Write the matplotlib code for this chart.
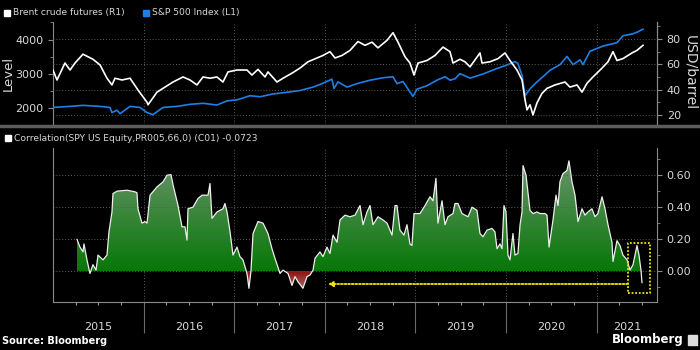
import numpy as np
import matplotlib
matplotlib.use('Agg')
import matplotlib.pyplot as plt
from matplotlib.colors import LinearSegmentedColormap
from matplotlib.path import Path
from matplotlib.patches import Rectangle
from matplotlib.lines import Line2D
from matplotlib.ticker import MultipleLocator, FixedLocator, NullFormatter, FormatStrFormatter
import matplotlib.transforms as mtransforms

# --- data (x = decimal year) ---
brent_t = [2015.000, 2015.044, 2015.132, 2015.188, 2015.243, 2015.331, 2015.441, 2015.519, 2015.596,
           2015.651, 2015.684, 2015.762, 2015.850, 2015.938, 2016.038, 2016.049, 2016.148, 2016.236,
           2016.325, 2016.435, 2016.512, 2016.589, 2016.656, 2016.733, 2016.810, 2016.876, 2016.932,
           2017.031, 2017.141, 2017.196, 2017.263, 2017.340, 2017.373, 2017.472, 2017.539, 2017.638,
           2017.726, 2017.815, 2017.914, 2017.980, 2018.057, 2018.113, 2018.190, 2018.278, 2018.366,
           2018.444, 2018.521, 2018.587, 2018.687, 2018.753, 2018.808, 2018.885, 2018.940, 2018.985,
           2019.029, 2019.128, 2019.216, 2019.305, 2019.382, 2019.415, 2019.492, 2019.547, 2019.603,
           2019.713, 2019.735, 2019.823, 2019.912, 2019.989, 2020.044, 2020.121, 2020.177, 2020.210,
           2020.232, 2020.265, 2020.298, 2020.342, 2020.397, 2020.453, 2020.541, 2020.651, 2020.706,
           2020.784, 2020.839, 2020.894, 2020.960, 2021.060, 2021.126, 2021.181, 2021.225, 2021.291,
           2021.391, 2021.446, 2021.512]
brent_usd = [55.5, 47.6, 61, 55.5, 61, 68, 64, 59.5, 49,
             43.7, 49, 47.6, 49, 39.7, 30, 28, 38, 42,
             46, 50, 47.6, 43.7, 50, 49, 50, 46, 54,
             55.5, 55.5, 51.5, 56, 50, 54, 46, 49, 53,
             57, 62, 65, 67, 70, 65, 67, 71, 78,
             75, 77.5, 73, 79, 85, 77.5, 66, 61, 51.5,
             61, 63, 67, 73.6, 70, 61, 64, 62, 58,
             69, 61, 62, 64.5, 69, 63, 55.5, 47.6, 32,
             24, 28, 20, 29.5, 37, 41, 43.7, 46, 42,
             43.7, 38, 45, 50, 57, 62, 70, 63, 64.5,
             69, 71, 75]

spx_t = [2015.000, 2015.188, 2015.331, 2015.519, 2015.629, 2015.651, 2015.706, 2015.740, 2015.850,
         2015.960, 2016.038, 2016.104, 2016.214, 2016.369, 2016.512, 2016.656, 2016.810, 2016.921,
         2017.031, 2017.174, 2017.285, 2017.428, 2017.583, 2017.726, 2017.870, 2017.969, 2018.079,
         2018.101, 2018.146, 2018.245, 2018.355, 2018.499, 2018.642, 2018.753, 2018.797, 2018.863,
         2018.973, 2019.018, 2019.128, 2019.238, 2019.327, 2019.382, 2019.437, 2019.492, 2019.603,
         2019.746, 2019.901, 2020.011, 2020.099, 2020.132, 2020.177, 2020.210, 2020.265, 2020.342,
         2020.408, 2020.486, 2020.596, 2020.673, 2020.740, 2020.817, 2020.850, 2020.927, 2021.071,
         2021.225, 2021.291, 2021.391, 2021.446, 2021.512]
spx_level = [2030, 2060, 2090, 2060, 2030, 1880, 1950, 1850, 2060,
             2030, 1880, 1820, 2030, 2060, 2120, 2150, 2100, 2220,
             2250, 2370, 2340, 2420, 2470, 2520, 2620, 2720, 2850,
             2580, 2770, 2620, 2720, 2820, 2890, 2920, 2720, 2780,
             2350, 2560, 2660, 2820, 2920, 2820, 2860, 3010, 2880,
             3000, 3160, 3260, 3360, 3300, 2960, 2370, 2570, 2770,
             2920, 3110, 3270, 3510, 3270, 3410, 3270, 3660, 3810,
             3910, 4110, 4160, 4210, 4300]

corr_t = [2015.265, 2015.298, 2015.331, 2015.342, 2015.375, 2015.408, 2015.441, 2015.475, 2015.497,
          2015.552, 2015.596, 2015.618, 2015.651, 2015.662, 2015.706, 2015.817, 2015.905, 2015.927,
          2015.938, 2015.982, 2016.015, 2016.038, 2016.071, 2016.148, 2016.214, 2016.258, 2016.302,
          2016.325, 2016.380, 2016.424, 2016.457, 2016.479, 2016.490, 2016.545, 2016.600, 2016.645,
          2016.711, 2016.733, 2016.755, 2016.810, 2016.876, 2016.898, 2016.921, 2016.954, 2016.987,
          2017.031, 2017.064, 2017.097, 2017.141, 2017.163, 2017.185, 2017.208, 2017.263, 2017.318,
          2017.373, 2017.417, 2017.450, 2017.506, 2017.539, 2017.594, 2017.638, 2017.671, 2017.704,
          2017.759, 2017.804, 2017.837, 2017.870, 2017.892, 2017.947, 2017.980, 2018.024, 2018.057,
          2018.091, 2018.135, 2018.168, 2018.223, 2018.278, 2018.333, 2018.389, 2018.422, 2018.466,
          2018.499, 2018.532, 2018.587, 2018.642, 2018.687, 2018.742, 2018.775, 2018.797, 2018.830,
          2018.874, 2018.907, 2018.940, 2018.962, 2018.985, 2019.051, 2019.106, 2019.161, 2019.194,
          2019.227, 2019.249, 2019.294, 2019.327, 2019.360, 2019.415, 2019.437, 2019.470, 2019.514,
          2019.581, 2019.625, 2019.680, 2019.713, 2019.746, 2019.790, 2019.845, 2019.878, 2019.901,
          2019.934, 2019.956, 2019.978, 2020.000, 2020.022, 2020.044, 2020.077, 2020.099, 2020.132,
          2020.155, 2020.177, 2020.188, 2020.221, 2020.265, 2020.298, 2020.342, 2020.375, 2020.430,
          2020.453, 2020.475, 2020.519, 2020.552, 2020.574, 2020.596, 2020.629, 2020.673, 2020.695,
          2020.728, 2020.762, 2020.795, 2020.839, 2020.872, 2020.905, 2020.949, 2020.982, 2021.015,
          2021.060, 2021.093, 2021.126, 2021.170, 2021.181, 2021.225, 2021.258, 2021.291, 2021.336,
          2021.369, 2021.402, 2021.446, 2021.468, 2021.490, 2021.501]
corr_val = [0.198, 0.15, 0.12, 0.17, 0.07, -0.015, 0.04, 0.006, 0.10,
            0.07, 0.10, 0.246, 0.37, 0.485, 0.50, 0.506, 0.496, 0.49,
            0.39, 0.30, 0.31, 0.30, 0.475, 0.527, 0.558, 0.60, 0.604,
            0.54, 0.41, 0.277, 0.277, 0.194, 0.39, 0.40, 0.454, 0.475,
            0.475, 0.548, 0.33, 0.37, 0.39, 0.423, 0.37, 0.246, 0.10,
            0.15, 0.09, 0.07, -0.015, -0.108, 0.0, 0.235, 0.31, 0.30,
            0.235, 0.14, 0.08, -0.015, 0.006, -0.015, -0.09, -0.035, -0.067,
            -0.108, -0.035, -0.025, 0.006, 0.08, 0.12, 0.09, 0.15, 0.11,
            0.225, 0.18, 0.32, 0.35, 0.34, 0.35, 0.41, 0.29, 0.37,
            0.41, 0.29, 0.34, 0.32, 0.30, 0.225, 0.41, 0.41, 0.256,
            0.225, 0.29, 0.17, 0.16, 0.36, 0.36, 0.41, 0.465, 0.44,
            0.58, 0.30, 0.44, 0.29, 0.34, 0.36, 0.423, 0.423, 0.36,
            0.34, 0.40, 0.38, 0.235, 0.215, 0.256, 0.267, 0.246, 0.14,
            0.17, 0.14, 0.41, 0.37, 0.10, 0.07, 0.235, 0.10, 0.11,
            0.29, 0.37, 0.66, 0.60, 0.38, 0.36, 0.37, 0.36, 0.36,
            0.35, 0.15, 0.32, 0.475, 0.41, 0.56, 0.61, 0.63, 0.69,
            0.56, 0.475, 0.31, 0.39, 0.35, 0.37, 0.39, 0.34, 0.36,
            0.465, 0.39, 0.29, 0.18, 0.06, 0.19, 0.16, 0.10, 0.07,
            0.006, 0.04, 0.16, 0.10, 0.006, -0.0723]

years = [2015, 2016, 2017, 2018, 2019, 2020, 2021]
X_MIN, X_MAX = 2015.0, 2021.667

BG = 'black'
FG = '#d8d8d8'
GRID = '#5a5a5a'
SPX_BLUE = '#1f7fe6'

plt.rcParams['font.family'] = ['DejaVu Sans']

fig = plt.figure(figsize=(7, 3.5), dpi=100, facecolor=BG)


def px(x, y):
    # pixel position in the 700x350 canvas -> figure fraction
    return x / 700, 1 - y / 350


def style_axis(ax):
    ax.set_facecolor(BG)
    for s in ax.spines.values():
        s.set_color('#8a8a8a')
        s.set_linewidth(0.8)
    ax.tick_params(colors='#8a8a8a', labelcolor=FG, labelsize=8, width=0.8)


def gradient_fill(ax, t, y, positive, c_near, c_far, lim):
    mask = y >= 0 if positive else y <= 0
    poly = ax.fill_between(t, 0, y, where=mask, interpolate=True,
                           facecolor='none', edgecolor='none')
    clip = Path.make_compound_path(*poly.get_paths())
    cmap = LinearSegmentedColormap.from_list('fill', [c_near, c_far])
    grad = np.linspace(0, 1, 256).reshape(-1, 1)
    if positive:
        im = ax.imshow(grad, extent=[t[0], t[-1], 0, lim], origin='lower',
                       cmap=cmap, aspect='auto', zorder=1)
    else:
        im = ax.imshow(grad, extent=[t[0], t[-1], lim, 0], origin='upper',
                       cmap=cmap, aspect='auto', zorder=1)
    im.set_clip_path(clip, transform=ax.transData)


# ---------------- top panel ----------------
ax_top = fig.add_axes([0.0757, 0.646, 0.8629, 0.291])
style_axis(ax_top)
ax_top.spines['bottom'].set_visible(False)
ax_top.spines['top'].set_visible(False)
ax_top.plot(spx_t, spx_level, color=SPX_BLUE, lw=1.2, zorder=3)
ax_top.set_xlim(X_MIN, X_MAX)
ax_top.set_ylim(1552, 4507)
ax_top.set_yticks([2000, 3000, 4000])
ax_top.yaxis.set_minor_locator(MultipleLocator(500))
ax_top.tick_params(axis='y', which='minor', length=2, color='#8a8a8a')
ax_top.set_xticks(years[1:])
ax_top.tick_params(axis='x', length=0, labelbottom=False)
ax_top.grid(axis='x', color=GRID, ls=(0, (1, 2)), lw=0.7)
ax_top.set_ylabel('Level', color=FG, fontsize=9.5)
ax_top.yaxis.set_label_coords(-0.064, 0.5)

ax_r = ax_top.twinx()
style_axis(ax_r)
for s in ['bottom', 'top', 'left']:
    ax_r.spines[s].set_visible(False)
ax_r.plot(brent_t, brent_usd, color='white', lw=1.2, zorder=4)
ax_r.set_ylim(12.9, 93.4)
ax_r.set_yticks([20, 40, 60, 80])
ax_r.yaxis.set_minor_locator(MultipleLocator(10))
ax_r.tick_params(axis='y', which='minor', length=2, color='#8a8a8a')
ax_r.grid(axis='y', color=GRID, ls=(0, (1, 2)), lw=0.7)
ax_r.set_ylabel('USD/barrel', color=FG, fontsize=10, rotation=270, labelpad=12)

# legend of top panel
fig.add_artist(Rectangle(px(4, 16), 6 / 700, 6 / 350, transform=fig.transFigure, color='white'))
fig.text(*px(13, 13), 'Brent crude futures (R1)', color=FG, fontsize=6.6, va='center')
fig.add_artist(Rectangle(px(143, 16), 6 / 700, 6 / 350, transform=fig.transFigure, color=SPX_BLUE))
fig.text(*px(152, 13), 'S&P 500 Index (L1)', color=FG, fontsize=6.6, va='center')

# separator between panels
fig.add_artist(Line2D([0, 1], [1 - 126 / 350] * 2, transform=fig.transFigure,
                      color='#5c5c5c', lw=2.5))

# ---------------- bottom panel ----------------
ax_bot = fig.add_axes([0.0757, 0.137, 0.8629, 0.44])
style_axis(ax_bot)
ax_bot.spines['top'].set_visible(False)
t = np.array(corr_t)
c = np.array(corr_val)
gradient_fill(ax_bot, t, c, True, '#067806', '#6f9470', 0.72)
gradient_fill(ax_bot, t, c, False, '#8c0a0a', '#a87070', -0.12)
ax_bot.plot(t, c, color='#eeeeee', lw=0.9, zorder=3)

ax_bot.set_xlim(X_MIN, X_MAX)
ax_bot.set_ylim(-0.194, 0.77)
ax_bot.yaxis.tick_right()
ax_bot.set_yticks([0.0, 0.2, 0.4, 0.6])
ax_bot.yaxis.set_major_formatter(FormatStrFormatter('%.2f'))
ax_bot.yaxis.set_minor_locator(FixedLocator([-0.1, 0.1, 0.3, 0.5, 0.7]))
ax_bot.tick_params(axis='y', which='minor', length=2, color='#8a8a8a')
ax_bot.grid(axis='y', color=GRID, ls=(0, (1, 2)), lw=0.7, zorder=0)

# x axis: long separators at year starts, quarterly minor ticks, labels mid-year
ax_bot.xaxis.set_major_locator(FixedLocator(years[1:]))
ax_bot.xaxis.set_major_formatter(NullFormatter())
quarters = [y + q / 4 for y in years for q in (1, 2, 3) if y + q / 4 < X_MAX]
ax_bot.xaxis.set_minor_locator(FixedLocator(quarters))
ax_bot.tick_params(axis='x', which='major', length=22, color='#6a6a6a', width=0.8)
ax_bot.tick_params(axis='x', which='minor', length=2.5, color='#9a9a9a', width=0.8)
for y in years[1:]:
    ax_bot.axvline(y, color=GRID, ls=(0, (1, 2)), lw=0.7, zorder=0)

blend = mtransforms.blended_transform_factory(ax_bot.transData, fig.transFigure)
for y in years:
    centre = (y + min(y + 1, X_MAX)) / 2
    ax_bot.text(centre, 1 - 327 / 350, str(y), transform=blend, color=FG,
                fontsize=8, ha='center', va='center')

# highlight box and arrow
box_x0, box_x1, box_y0, box_y1 = 2021.347, 2021.589, -0.1375, 0.175
ax_bot.plot([box_x0, box_x1, box_x1, box_x0, box_x0],
            [box_y0, box_y0, box_y1, box_y1, box_y0],
            color='#f2e600', lw=1.3, ls=(0, (1, 1)), zorder=5, clip_on=False)
ax_bot.annotate('', xy=(2018.035, -0.081), xytext=(box_x0, -0.081),
                arrowprops=dict(arrowstyle='-|>', color='#f2e600', lw=1.3,
                                ls=(0, (1, 1)), mutation_scale=7,
                                shrinkA=0, shrinkB=0), zorder=5)

# legend of bottom panel
fig.add_artist(Rectangle(px(5, 141), 6 / 700, 6 / 350, transform=fig.transFigure, color='white'))
fig.text(*px(14, 138), 'Correlation(SPY US Equity,PR005,66,0) (C01) -0.0723',
         color=FG, fontsize=6.6, va='center')

# footer
fig.text(*px(2, 341), 'Source: Bloomberg', color='white', fontsize=7,
         fontweight='bold', va='center')
fig.text(*px(684, 340), 'Bloomberg', color='white', fontsize=8.5,
         fontweight='bold', va='center', ha='right')
fig.add_artist(Rectangle(px(688, 345), 9 / 700, 10 / 350, transform=fig.transFigure,
                         color='#dddddd'))

fig.savefig('out.png', dpi=100, facecolor=BG)
